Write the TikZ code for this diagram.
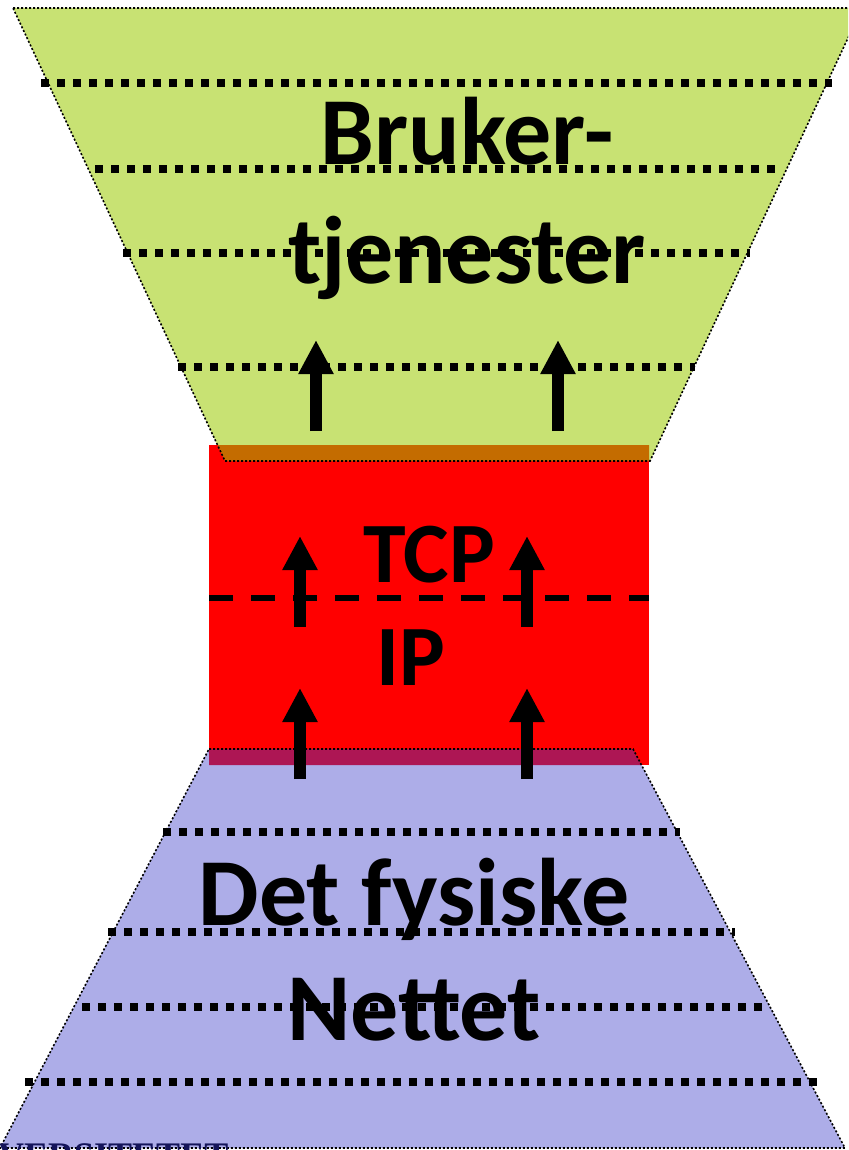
\documentclass[tikz,border=0pt]{standalone}
\usepackage{fontspec}
\setmainfont{Carlito}
\newfontfamily\logofont{Liberation Serif}
\usetikzlibrary{arrows.meta}
\definecolor{lime}{RGB}{200,226,115}
\definecolor{lav}{RGB}{173,173,232}
\definecolor{brownov}{RGB}{196,108,0}
\definecolor{purpov}{RGB}{173,22,84}
\definecolor{navy}{RGB}{20,20,90}
\tikzset{
 outl/.style={draw=black,line width=1.6pt,dash pattern=on 2pt off 2pt},
 dots/.style={line width=8pt,dash pattern=on 8pt off 8pt,black},
 upar/.style={line width=12pt,black,-{Triangle[width=33pt,length=34pt]}},
 lab/.style={font=\bfseries,text=black,inner sep=0pt,anchor=base},
}
\begin{document}
\begin{tikzpicture}[x=1pt,y=-1pt]
\useasboundingbox (0,0) rectangle (848,1150);
\clip (0,0) rectangle (848,1150);
% fills
\fill[lav] (209,749) -- (633,749) -- (845,1148) -- (0,1148) -- cycle;
\fill[lime] (13,8) -- (862,8) -- (650,461) -- (225,461) -- cycle;
\fill[red] (209,445) rectangle (649,765);
\fill[brownov] (217.5,445) -- (649,445) -- (649,461) -- (225,461) -- cycle;
\fill[purpov] (209,749) -- (633,749) -- (641.5,765) -- (209,765) -- cycle;
% outlines
\draw[outl] (13,8) -- (862,8) -- (650,461) -- (225,461) -- cycle;
\draw[outl] (209,749) -- (633,749) -- (845,1148) -- (0,1148) -- cycle;
% coordinates
\foreach \n/\xa/\xb/\y in {ga/41/832/83,gb/95/778/169,gc/123/750/253,gd/178/695/367,
 ba/163/680/832,bb/108/735/932,bc/82/765/1007,bd/25/817/1081.5}{
  \coordinate (\n l) at (\xa,\y);
  \coordinate (\n r) at (\xb,\y);
  \draw[dots] (\n l) -- (\n r);
}
\coordinate (dl) at (209,597.5);
\coordinate (dr) at (649,597.5);
\draw[line width=6pt,dash pattern=on 24pt off 18pt] (dl) -- (dr);
% labels
\node[lab,font=\bfseries\fontsize{96}{96}\selectfont] (t1) at (467,165) {Bruker-};
\node[lab,font=\bfseries\fontsize{96}{96}\selectfont] (t2) at (467,283) {tjenester};
\node[lab,font=\bfseries\fontsize{86}{86}\selectfont] (t3) at (429,582) {TCP};
\node[lab,font=\bfseries\fontsize{86}{86}\selectfont] (t4) at (411,685) {IP};
\node[lab,font=\bfseries\fontsize{96}{96}\selectfont] (t5) at (414,925) {Det fysiske};
\node[lab,font=\bfseries\fontsize{96}{96}\selectfont] (t6) at (414,1040) {Nettet};
% arrows
\foreach \n/\x/\a/\b in {aa/316/431/340,ab/558/431/340,ac/300/627/536,ad/527/627/536,ae/300/779/688,af/527/779/688}{
  \coordinate (\n s) at (\x,\a);
  \coordinate (\n e) at (\x,\b);
  \draw[upar] (\n s) -- (\n e);
}
\node[inner sep=0pt,anchor=base west,text=navy,font=\logofont\bfseries\fontsize{36}{36}\selectfont] (logo) at (-2,1167) {VERSITETET};
\end{tikzpicture}
\end{document}
